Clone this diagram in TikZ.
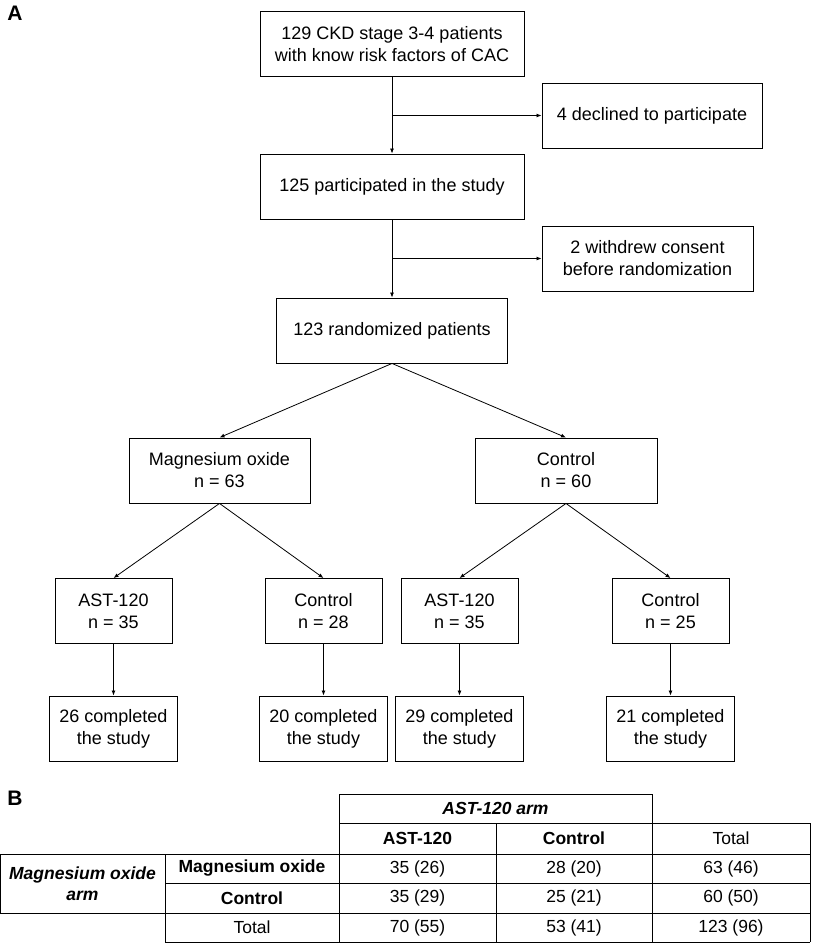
\documentclass[tikz,border=0pt]{standalone}
\usepackage{fontspec}
\setmainfont{Liberation Sans}
\usetikzlibrary{arrows.meta}
\begin{document}
\begin{tikzpicture}[x=1pt,y=-1pt,
  box/.style={draw, line width=0.9pt, align=center, inner sep=0pt, minimum height=65pt, font=\fontsize{18}{22}\selectfont},
  arr/.style={line width=0.8pt, -{Latex[length=5pt,width=4pt]}},
  cell/.style={inner sep=0pt, align=center, font=\fontsize{17.5}{21}\selectfont},
  hd/.style={cell, font=\fontsize{17.5}{21}\selectfont\bfseries},
  hdi/.style={cell, font=\fontsize{17.5}{21}\selectfont\bfseries\itshape},
  tl/.style={line width=0.9pt},
  panel/.style={inner sep=0pt, font=\fontsize{21}{24}\selectfont\bfseries}]
\useasboundingbox (0,0) rectangle (812,943);

\node[panel] (pA) at (15,13) {A};
\node[panel] (pB) at (15,798) {B};

% flowchart
\node[box, minimum width=264pt] (top) at (392,44) {129 CKD stage 3-4 patients\\with know risk factors of CAC};
\node[box, minimum width=220pt] (decl) at (652,115.5) {4 declined to participate};
\node[box, minimum width=264pt] (part) at (392,186.5) {125 participated in the study};
\node[box, minimum width=211pt] (wd) at (647.5,258.5) {2 withdrew consent\\before randomization};
\node[box, minimum width=231pt] (rand) at (392,330.5) {123 randomized patients};
\node[box, minimum width=181pt] (mg) at (219.5,470.5) {Magnesium oxide\\n = 63};
\node[box, minimum width=182pt] (ctl) at (566,470.5) {Control\\n = 60};
\node[box, minimum width=117pt] (a1) at (113.5,611) {AST-120\\n = 35};
\node[box, minimum width=117pt] (c1) at (323.5,611) {Control\\n = 28};
\node[box, minimum width=117pt] (a2) at (459.5,611) {AST-120\\n = 35};
\node[box, minimum width=117pt] (c2) at (670.5,611) {Control\\n = 25};
\node[box, minimum width=128pt] (f1) at (113.5,728.5) {26 completed\\the study};
\node[box, minimum width=128pt] (f2) at (323.5,728.5) {20 completed\\the study};
\node[box, minimum width=128pt] (f3) at (459.5,728.5) {29 completed\\the study};
\node[box, minimum width=128pt] (f4) at (670.5,728.5) {21 completed\\the study};

\coordinate (j1) at (392,115.5);
\coordinate (j2) at (392,258.5);
\draw[arr] (top.south) -- (part.north);
\draw[arr] (j1) -- (decl.west);
\draw[arr] (part.south) -- (rand.north);
\draw[arr] (j2) -- (wd.west);
\draw[arr] (rand.south) -- (mg.north);
\draw[arr] (rand.south) -- (ctl.north);
\draw[arr] (mg.south) -- (a1.north);
\draw[arr] (mg.south) -- (c1.north);
\draw[arr] (ctl.south) -- (a2.north);
\draw[arr] (ctl.south) -- (c2.north);
\draw[arr] (a1.south) -- (f1.north);
\draw[arr] (c1.south) -- (f2.north);
\draw[arr] (a2.south) -- (f3.north);
\draw[arr] (c2.south) -- (f4.north);

% table
\draw[tl] (339,794) rectangle (652,823);
\draw[tl] (339,823) -- (810,823);
\draw[tl] (0,854) -- (810,854);
\draw[tl] (165,883) -- (810,883);
\draw[tl] (0,913) -- (810,913);
\draw[tl] (165,942) -- (810,942);
\draw[tl] (0,854) -- (0,913);
\draw[tl] (165,854) -- (165,942);
\draw[tl] (339,823) -- (339,942);
\draw[tl] (496,823) -- (496,942);
\draw[tl] (652,823) -- (652,942);
\draw[tl] (810,823) -- (810,942);

\node[hdi] (tarm) at (495.5,808.5) {AST-120 arm};
\node[hd] (tast) at (417.5,838.5) {AST-120};
\node[hd] (tctl) at (574,838.5) {Control};
\node[cell] (ttot) at (731,838.5) {Total};
\node[hdi] (tmgarm) at (82.5,883.5) {Magnesium oxide\\arm};
\node[hd] (rmg) at (252,868.5) {Magnesium oxide};
\node[hd] (rctl) at (252,898) {Control};
\node[cell] (rtot) at (252,927.5) {Total};
\node[cell] (v11) at (417.5,868.5) {35 (26)};
\node[cell] (v12) at (574,868.5) {28 (20)};
\node[cell] (v13) at (731,868.5) {63 (46)};
\node[cell] (v21) at (417.5,898) {35 (29)};
\node[cell] (v22) at (574,898) {25 (21)};
\node[cell] (v23) at (731,898) {60 (50)};
\node[cell] (v31) at (417.5,927.5) {70 (55)};
\node[cell] (v32) at (574,927.5) {53 (41)};
\node[cell] (v33) at (731,927.5) {123 (96)};
\end{tikzpicture}
\end{document}
